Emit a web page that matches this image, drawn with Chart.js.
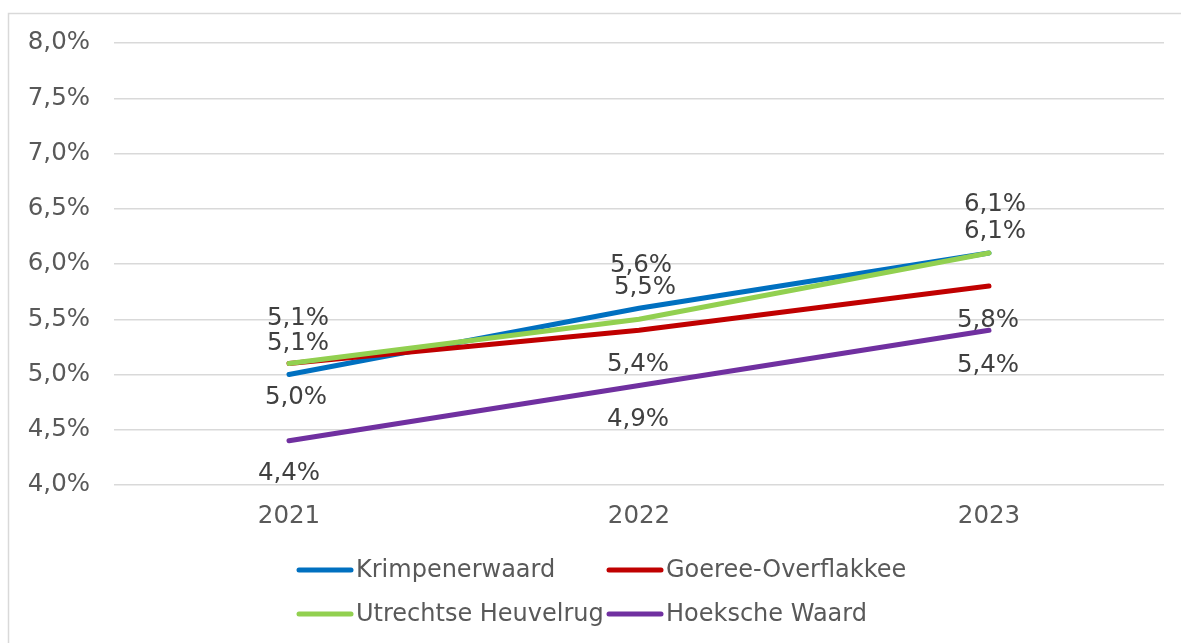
<!DOCTYPE html>
<html>
<head>
<meta charset="utf-8">
<script src="https://cdn.jsdelivr.net/npm/chart.js@4/dist/chart.umd.min.js"></script>
<style>
  html, body { margin: 0; padding: 0; background: #fff; }
  #wrap { position: relative; width: 1181px; height: 643px; }
</style>
</head>
<body>
<div id="wrap"><canvas id="chart" width="1181" height="643"></canvas></div>
<script>
const years = ['2021', '2022', '2023'];
const krimpenerwaard = [5.0, 5.6, 6.1];
const goereeOverflakkee = [5.1, 5.4, 5.8];
const utrechtseHeuvelrug = [5.1, 5.5, 6.1];
const hoekscheWaard = [4.4, 4.9, 5.4];

// where each value label sits relative to its point (px), roughly as in the original
const labelShift = {
  Krimpenerwaard: [[7, 23], [2, -43], [6, -48]],
  'Goeree-Overflakkee': [[9, -20], [-1, 34], [-1, 35]],
  'Utrechtse Heuvelrug': [[9, -45], [6, -32], [6, -21]],
  'Hoeksche Waard': [[0, 33], [-1, 34], [-1, 35]],
};

const FONT = '"DejaVu Sans", Verdana, sans-serif';
const fmt = (v) => v.toFixed(1).replace('.', ',') + '%';

const series = [
  { label: 'Krimpenerwaard', data: krimpenerwaard, color: '#0070C0', order: 4 },
  { label: 'Goeree-Overflakkee', data: goereeOverflakkee, color: '#C00000', order: 3 },
  { label: 'Utrechtse Heuvelrug', data: utrechtseHeuvelrug, color: '#92D050', order: 2 },
  { label: 'Hoeksche Waard', data: hoekscheWaard, color: '#7030A0', order: 1 },
];

const frame = {
  id: 'frame',
  beforeDraw(chart) {
    const ctx = chart.ctx;
    ctx.save();
    ctx.strokeStyle = '#d9d9d9';
    ctx.lineWidth = 1.5;
    ctx.strokeRect(8.5, 13.5, 1200, 700);
    ctx.restore();
  },
};

const valueLabels = {
  id: 'valueLabels',
  afterDatasetsDraw(chart) {
    const ctx = chart.ctx;
    ctx.save();
    ctx.font = `24.5px ${FONT}`;
    ctx.fillStyle = '#404040';
    ctx.textAlign = 'center';
    ctx.textBaseline = 'middle';
    chart.data.datasets.forEach((ds, i) => {
      const meta = chart.getDatasetMeta(i);
      meta.data.forEach((pt, j) => {
        const [dx, dy] = labelShift[ds.label][j];
        ctx.fillText(fmt(ds.data[j]), pt.x + dx, pt.y + dy);
      });
    });
    ctx.restore();
  },
};

const gridLegend = {
  id: 'gridLegend',
  afterDraw(chart) {
    const ctx = chart.ctx;
    const cols = [297, 607];
    const rows = [570, 614];
    ctx.save();
    ctx.font = `24px ${FONT}`;
    ctx.textBaseline = 'middle';
    ctx.lineCap = 'round';
    ctx.lineWidth = 5;
    series.forEach((s, i) => {
      const x = cols[i % 2];
      const y = rows[Math.floor(i / 2)];
      ctx.strokeStyle = s.color;
      ctx.beginPath();
      ctx.moveTo(x + 2, y);
      ctx.lineTo(x + 54, y);
      ctx.stroke();
      ctx.fillStyle = '#595959';
      ctx.fillText(s.label, x + 59, y + 1);
    });
    ctx.restore();
  },
};

new Chart(document.getElementById('chart'), {
  type: 'line',
  data: {
    labels: years,
    datasets: series.map((s) => ({
      label: s.label,
      data: s.data,
      borderColor: s.color,
      backgroundColor: s.color,
      borderWidth: 5,
      borderCapStyle: 'round',
      pointRadius: 0,
      tension: 0,
      order: s.order,
    })),
  },
  options: {
    responsive: false,
    animation: false,
    layout: { padding: { top: 43, right: 17, bottom: 0, left: 0 } },
    plugins: { legend: { display: false }, tooltip: { enabled: false } },
    scales: {
      x: {
        offset: true,
        grid: { display: false, drawTicks: false },
        border: { display: false },
        ticks: { color: '#595959', font: { family: FONT, size: 24.5 }, padding: 17 },
        afterFit: (scale) => { scale.height = 158; },
      },
      y: {
        min: 4,
        max: 8,
        grid: { color: '#d9d9d9', lineWidth: 1.5, drawTicks: false },
        border: { display: false },
        ticks: {
          stepSize: 0.5,
          color: '#595959',
          font: { family: FONT, size: 24.5 },
          padding: 24,
          callback: (v) => fmt(v),
        },
        afterFit: (scale) => { scale.width = 114; },
      },
    },
  },
  plugins: [frame, valueLabels, gridLegend],
});
</script>
</body>
</html>
